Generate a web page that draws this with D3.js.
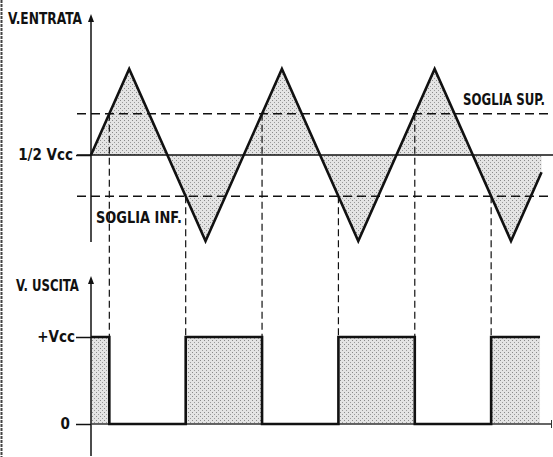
<!DOCTYPE html>
<html>
<head>
<meta charset="utf-8">
<script src="https://cdn.jsdelivr.net/npm/d3@7"></script>
<style>
  body { margin: 0; background: #fff; }
  svg { display: block; }
  text { font-family: "Liberation Sans Narrow", "DejaVu Sans Condensed", "Liberation Sans", sans-serif; font-weight: bold; fill: #111; }
</style>
</head>
<body>
<svg id="chart" width="553" height="457"></svg>
<script>
// input triangle wave (time in quarter periods, value: -1 .. 1 around 1/2 Vcc)
var triT = [0, 1, 3, 5, 7, 9, 11, 11.8];
var triV = [0, 1, -1, 1, -1, 1, -1, -0.2];
// thresholds (soglia sup / inf)
var thresholds = [0.48, -0.48];
// output square wave: switching times and levels (1 = +Vcc, 0 = 0)
var outT = [0, 0.48, 2.48, 4.48, 6.48, 8.48, 10.48, 11.76];
var outV = [1, 0, 1, 0, 1, 0, 1, 1];
// which threshold triggers each switching edge
var edgeT = [0.48, 2.48, 4.48, 6.48, 8.48, 10.48];
var edgeLevel = [0.48, -0.48, 0.48, -0.48, 0.48, -0.48];
var inTicks = [0];
var inTickLabels = ["1/2 Vcc"];
var outTicks = [1, 0];
var outTickLabels = ["+Vcc", "0"];

var svg = d3.select("#chart");

var x = d3.scaleLinear().domain([0, 11]).range([91, 511]);
var yIn = d3.scaleLinear().domain([-1, 1]).range([241, 69]);
var yOut = d3.scaleLinear().domain([0, 1]).range([424, 337]);

// stipple pattern
var defs = svg.append("defs");
var pat = defs.append("pattern")
    .attr("id", "stipple")
    .attr("width", 4).attr("height", 4)
    .attr("patternUnits", "userSpaceOnUse");
pat.append("rect").attr("width", 4).attr("height", 4).attr("fill", "#e4e4e4");
pat.append("rect").attr("x", 0).attr("y", 0).attr("width", 1).attr("height", 1).attr("fill", "#8a8a8a");
pat.append("rect").attr("x", 2).attr("y", 2).attr("width", 1).attr("height", 1).attr("fill", "#9a9a9a");

// scanned page edge
svg.append("line")
    .attr("x1", 1.5).attr("x2", 1.5).attr("y1", 0).attr("y2", 457)
    .attr("stroke", "#444").attr("stroke-width", 2).attr("stroke-dasharray", "3,1");

var tri = d3.range(triT.length).map(function(i) { return {t: triT[i], v: triV[i]}; });
var out = d3.range(outT.length).map(function(i) { return {t: outT[i], v: outV[i]}; });

// shaded area between wave and midline
svg.append("path")
    .datum(tri)
    .attr("fill", "url(#stipple)")
    .attr("d", d3.area()
        .x(function(d) { return x(d.t); })
        .y0(yIn(0))
        .y1(function(d) { return yIn(d.v); }));

// shaded output pulses
svg.append("path")
    .datum(out)
    .attr("fill", "url(#stipple)")
    .attr("d", d3.area()
        .curve(d3.curveStepAfter)
        .x(function(d) { return x(d.t); })
        .y0(yOut(0))
        .y1(function(d) { return yOut(d.v); }));

// midline and thresholds
svg.append("line")
    .attr("x1", 77).attr("x2", 553)
    .attr("y1", yIn(0)).attr("y2", yIn(0))
    .attr("stroke", "#111").attr("stroke-width", 1.5);

svg.selectAll("line.thr")
    .data(thresholds)
    .enter().append("line")
    .attr("class", "thr")
    .attr("x1", 77).attr("x2", 553)
    .attr("y1", function(d) { return yIn(d); })
    .attr("y2", function(d) { return yIn(d); })
    .attr("stroke", "#111").attr("stroke-width", 1.5)
    .attr("stroke-dasharray", "9,5");

// vertical dashed projection lines
svg.selectAll("line.edge")
    .data(edgeT)
    .enter().append("line")
    .attr("class", "edge")
    .attr("x1", function(d) { return x(d); })
    .attr("x2", function(d) { return x(d); })
    .attr("y1", function(d, i) { return yIn(edgeLevel[i]); })
    .attr("y2", yOut(1))
    .attr("stroke", "#111").attr("stroke-width", 1.2)
    .attr("stroke-dasharray", "7,4");

// axes lines
svg.append("line")
    .attr("x1", 91).attr("x2", 91).attr("y1", 20).attr("y2", 242)
    .attr("stroke", "#111").attr("stroke-width", 1.5);
svg.append("line")
    .attr("x1", 91).attr("x2", 91).attr("y1", 282).attr("y2", 456)
    .attr("stroke", "#111").attr("stroke-width", 1.5);
svg.append("path").attr("d", "M91,14 L88,22 L94,22 Z").attr("fill", "#111");
svg.append("path").attr("d", "M91,276 L88,284 L94,284 Z").attr("fill", "#111");

// baseline 0
svg.append("line")
    .attr("x1", 91).attr("x2", 552)
    .attr("y1", yOut(0)).attr("y2", yOut(0))
    .attr("stroke", "#333").attr("stroke-width", 1.6);
svg.append("line")
    .attr("x1", 551.5).attr("x2", 551.5)
    .attr("y1", yOut(0) - 4).attr("y2", yOut(0) + 4)
    .attr("stroke", "#333").attr("stroke-width", 1);

// tick marks with labels
var axIn = svg.append("g")
    .attr("transform", "translate(91,0)")
    .call(d3.axisLeft(yIn).tickValues(inTicks)
        .tickFormat(function(d, i) { return inTickLabels[i]; })
        .tickSize(15).tickSizeOuter(0).tickPadding(3));
var axOut = svg.append("g")
    .attr("transform", "translate(91,0)")
    .call(d3.axisLeft(yOut).tickValues(outTicks)
        .tickFormat(function(d, i) { return outTickLabels[i]; })
        .tickSize(15).tickSizeOuter(0).tickPadding(1));
[axIn, axOut].forEach(function(ax) {
    ax.select(".domain").remove();
    ax.selectAll(".tick line").attr("stroke", "#111").attr("stroke-width", 1.5);
    ax.selectAll(".tick text")
        .attr("font-family", null)
        .attr("font-size", 15)
        .attr("fill", "#111");
});
axOut.selectAll(".tick text").filter(function(d) { return d === 0; }).attr("x", -21);

// wave lines
svg.append("path")
    .datum(tri)
    .attr("fill", "none")
    .attr("stroke", "#111").attr("stroke-width", 2.6)
    .attr("stroke-linejoin", "miter")
    .attr("d", d3.line()
        .x(function(d) { return x(d.t); })
        .y(function(d) { return yIn(d.v); }));

svg.append("path")
    .datum(out)
    .attr("fill", "none")
    .attr("stroke", "#111").attr("stroke-width", 2.6)
    .attr("d", d3.line()
        .curve(d3.curveStepAfter)
        .x(function(d) { return x(d.t); })
        .y(function(d) { return yOut(d.v); }));

// labels, squeezed horizontally to the width they take in the original
function label(txt, x0, y0, size, width) {
    var t = svg.append("text").attr("font-size", size).text(txt);
    var w = t.node().getComputedTextLength();
    t.attr("transform", "translate(" + x0 + "," + y0 + ") scale(" + (width / w) + ",1)");
}
label("V.ENTRATA", 8, 24, 16, 74);
label("V. USCITA", 16, 291, 15, 63);
label("SOGLIA SUP.", 463, 105, 16, 82);
label("SOGLIA INF.", 96, 223, 16, 86);
</script>
</body>
</html>
